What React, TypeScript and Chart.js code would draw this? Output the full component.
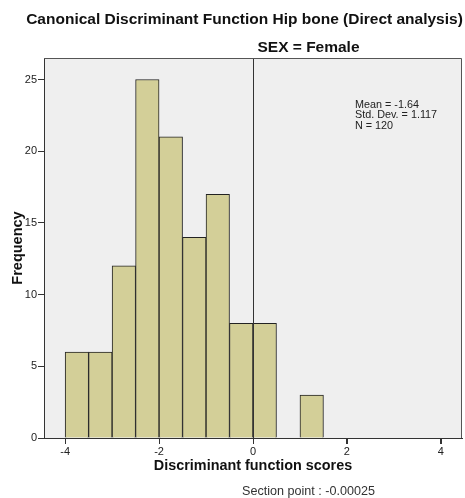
import React, { useEffect, useRef } from "react";
import { Chart, registerables } from "chart.js";

Chart.register(...registerables);

const binStarts = [-4, -3.5, -3, -2.5, -2, -1.5, -1, -0.5, 0, 0.5, 1];
const frequencies = [6, 6, 12, 25, 21, 14, 17, 8, 8, 0, 3];
const binWidth = 0.5;
const xTicks = [-4, -2, 0, 2, 4];
const yTicks = [0, 5, 10, 15, 20, 25];
const sectionPoint = -0.00025;
const statsLines = ["Mean = -1.64", "Std. Dev. = 1.117", "N = 120"];
const mainTitle = "Canonical Discriminant Function Hip bone (Direct analysis)";
const panelTitle = "SEX = Female";
const sectionLabel = "Section point : -0.00025";

const FONT = "'Liberation Sans', Arial, Helvetica, sans-serif";

const decorPlugin = {
  id: "decor",
  beforeDraw(chart: any) {
    const { ctx, chartArea } = chart;
    ctx.save();
    ctx.fillStyle = "#efefef";
    ctx.fillRect(chartArea.left, chartArea.top, chartArea.right - chartArea.left, chartArea.bottom - chartArea.top);
    ctx.restore();
  },
  afterDatasetsDraw(chart: any) {
    const { ctx, chartArea, scales } = chart;
    ctx.save();
    const sx = Math.round(scales.x.getPixelForValue(sectionPoint)) + 0.5;
    ctx.strokeStyle = "#333";
    ctx.lineWidth = 1;
    ctx.beginPath();
    ctx.moveTo(sx, chartArea.top);
    ctx.lineTo(sx, chartArea.bottom);
    ctx.stroke();
    ctx.strokeStyle = "#555";
    ctx.beginPath();
    ctx.moveTo(chartArea.left, chartArea.top + 0.5);
    ctx.lineTo(chartArea.right - 0.5, chartArea.top + 0.5);
    ctx.lineTo(chartArea.right - 0.5, chartArea.bottom);
    ctx.stroke();
    // x-axis tick marks at the scale's ticks
    const xs = scales.x;
    ctx.strokeStyle = "#333";
    ctx.beginPath();
    xs.ticks.forEach((_t: any, i: number) => {
      const px = Math.round(xs.getPixelForTick(i)) + 0.5;
      ctx.moveTo(px, chartArea.bottom);
      ctx.lineTo(px, chartArea.bottom + 6);
    });
    ctx.stroke();
    ctx.restore();
  },
  afterDraw(chart: any) {
    const { ctx } = chart;
    ctx.save();
    ctx.fillStyle = "#111";
    ctx.textAlign = "center";
    ctx.textBaseline = "middle";
    ctx.font = `bold 15.5px ${FONT}`;
    ctx.fillText(mainTitle, 244.5, 20);
    ctx.fillText(panelTitle, 308.5, 48);
    ctx.textAlign = "left";
    ctx.textBaseline = "alphabetic";
    ctx.font = `10.8px ${FONT}`;
    ctx.fillStyle = "#222";
    statsLines.forEach((t, i) => ctx.fillText(t, 355, 108 + i * 10.3));
    ctx.textAlign = "center";
    ctx.font = `12.6px ${FONT}`;
    ctx.fillStyle = "#333";
    ctx.fillText(sectionLabel, 308.5, 495);
    ctx.restore();
  },
};

export default function App() {
  const ref = useRef<HTMLCanvasElement>(null);
  useEffect(() => {
    document.body.style.margin = "0";
    const points = binStarts.map((s, i) => ({ x: s + binWidth / 2, y: frequencies[i] }));
    const chart = new Chart(ref.current!, {
      type: "bar",
      data: {
        datasets: [
          {
            data: points as any,
            backgroundColor: "#d3cf98",
            borderColor: "#222",
            borderWidth: 1,
            barPercentage: 1,
            categoryPercentage: 1,
          },
        ],
      },
      plugins: [decorPlugin],
      options: {
        responsive: false,
        animation: false,
        devicePixelRatio: 1,
        layout: { padding: { top: 58, right: 3, left: 0, bottom: 0 } },
        plugins: { legend: { display: false }, tooltip: { enabled: false }, title: { display: false } },
        scales: {
          x: {
            type: "linear",
            min: -4.45,
            max: 4.45,
            offset: false,
            afterBuildTicks: (s: any) => {
              s.ticks = xTicks.map((v) => ({ value: v }));
            },
            afterFit: (s: any) => {
              s.height = 60;
            },
            grid: { offset: false, drawOnChartArea: false, drawTicks: true, tickLength: 6, tickWidth: 1, color: "#333", tickColor: "#333" },
            border: { display: true, color: "#333", width: 1 },
            ticks: { color: "#222", font: { family: FONT, size: 11 }, padding: 1, maxRotation: 0 },
            title: {
              display: true,
              text: "Discriminant function scores",
              color: "#111",
              font: { family: FONT, size: 14.4, weight: "bold" },
              padding: { top: 0, bottom: 23 },
            },
          },
          y: {
            min: 0,
            max: 26.5,
            afterBuildTicks: (s: any) => {
              s.ticks = yTicks.map((v) => ({ value: v }));
            },
            afterFit: (s: any) => {
              s.width = 44;
            },
            grid: { drawOnChartArea: false, drawTicks: true, tickLength: 6, tickWidth: 1, color: "#333", tickColor: "#333" },
            border: { display: true, color: "#333", width: 1 },
            ticks: { color: "#222", font: { family: FONT, size: 11 }, padding: 1 },
            title: {
              display: true,
              text: "Frequency",
              color: "#111",
              font: { family: FONT, size: 14.5, weight: "bold" },
              padding: { top: 9, bottom: 0 },
            },
          },
        },
      } as any,
    });
    return () => chart.destroy();
  }, []);
  return (
    <div style={{ width: 465, height: 498, background: "#fff" }}>
      <canvas ref={ref} width={465} height={498} style={{ display: "block" }} />
    </div>
  );
}
